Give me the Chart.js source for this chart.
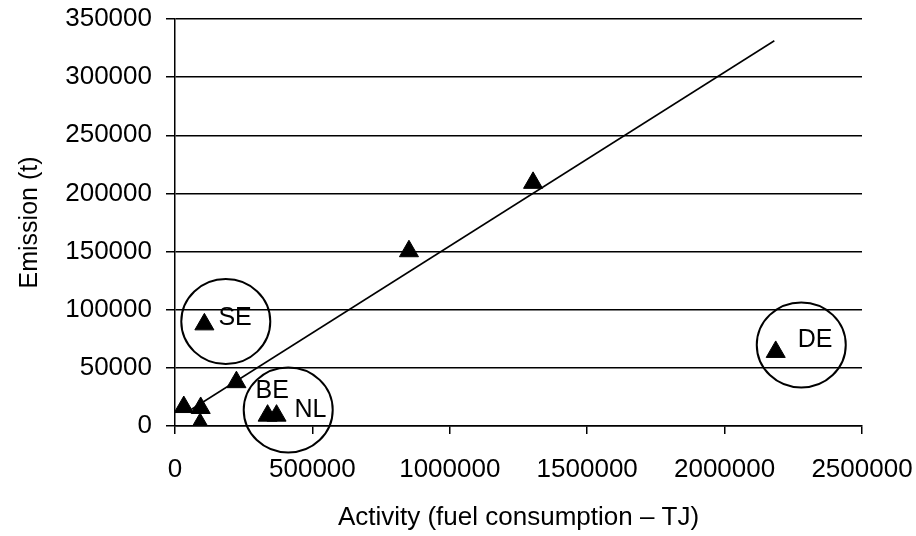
<!DOCTYPE html>
<html>
<head>
<meta charset="utf-8">
<title>Emission vs activity</title>
<script src="https://cdn.jsdelivr.net/npm/chart.js@4.4.1/dist/chart.umd.min.js"></script>
<style>
  html, body { margin: 0; padding: 0; background: #fff; }
</style>
</head>
<body>
<canvas id="myChart" width="916" height="536"></canvas>
<script>
// activity (fuel consumption, TJ) and emission (t) per country
const countries = ['', '', '', '', 'SE', 'BE', 'NL', '', '', 'DE'];
const activity = [32000, 93500, 91300, 223500, 106900, 337000, 369500, 851400, 1303000, 2186000];
const emission = [16300, 15500, 1700, 37700, 87400, 8900, 8900, 150300, 209100, 63700];

// regression line, start and end
const trendActivity = [60500, 2181000];
const trendEmission = [14400, 331300];

// centres of the circled outliers
const circleActivity = [184800, 412000, 2279000];
const circleEmission = [89800, 13800, 69700];

// axis ranges and tick steps
const xRange = [0, 2500000];
const xStep = 500000;
const yRange = [0, 350000];
const yStep = 50000;

const FONT = "'Liberation Sans', Arial, sans-serif";

// text offsets (px) of each country label from its point
const labelOffset = { SE: [14, 1], BE: [-12, -18], NL: [18, 1], DE: [22, -5] };

const annotations = {
    id: 'annotations',
    afterDatasetsDraw(chart) {
        const ctx = chart.ctx;
        const xs = chart.scales.x, ys = chart.scales.y;
        ctx.save();
        ctx.strokeStyle = '#000';
        ctx.lineWidth = 2;
        circleActivity.forEach((a, i) => {
            ctx.beginPath();
            ctx.ellipse(xs.getPixelForValue(a), ys.getPixelForValue(circleEmission[i]), 44.5, 42.5, 0, 0, Math.PI * 2);
            ctx.stroke();
        });
        ctx.fillStyle = '#000';
        ctx.font = '25px ' + FONT;
        ctx.textBaseline = 'alphabetic';
        ctx.textAlign = 'left';
        countries.forEach((c, i) => {
            if (!c) return;
            const off = labelOffset[c];
            ctx.fillText(c, xs.getPixelForValue(activity[i]) + off[0], ys.getPixelForValue(emission[i]) + off[1]);
        });
        ctx.restore();
    }
};

// keep the plot area fixed, labels may hang over the padding
function noOverhang(s) {
    s.paddingLeft = 0;
    s.paddingRight = 0;
    s.paddingTop = 0;
    s.paddingBottom = 0;
}

const ctx = document.getElementById('myChart').getContext('2d');
const myChart = new Chart(ctx, {
    type: 'scatter',
    data: {
        datasets: [{
            type: 'line',
            data: trendActivity.map((a, i) => ({ x: a, y: trendEmission[i] })),
            borderColor: '#000',
            borderWidth: 1.5,
            pointRadius: 0,
            fill: false
        }, {
            data: activity.map((a, i) => ({ x: a, y: emission[i] })),
            pointStyle: 'triangle',
            pointRadius: 11,
            backgroundColor: '#000',
            borderColor: '#000',
            borderWidth: 1
        }]
    },
    options: {
        responsive: false,
        devicePixelRatio: 1,
        animation: false,
        layout: { padding: { top: 19, right: 54, bottom: 0, left: 0 } },
        plugins: { legend: { display: false }, tooltip: { enabled: false } },
        scales: {
            x: {
                type: 'linear',
                min: xRange[0],
                max: xRange[1],
                afterFit: s => { s.height = 110; noOverhang(s); },
                ticks: {
                    stepSize: xStep,
                    autoSkip: false,
                    maxRotation: 0,
                    padding: 20,
                    color: '#000',
                    font: { family: FONT, size: 26 },
                    callback: v => v
                },
                grid: { drawOnChartArea: false, drawTicks: true, tickLength: 8, color: '#000', lineWidth: 1.5 },
                border: { color: '#000', width: 1.5 },
                title: {
                    display: true,
                    text: 'Activity (fuel consumption – TJ)',
                    color: '#000',
                    font: { family: FONT, size: 26 },
                    padding: { top: 0, bottom: 3 }
                }
            },
            y: {
                min: yRange[0],
                max: yRange[1],
                afterFit: s => { s.width = 175; noOverhang(s); },
                ticks: {
                    stepSize: yStep,
                    padding: 14,
                    color: '#000',
                    font: { family: FONT, size: 26 },
                    callback: v => v
                },
                grid: { color: '#000', lineWidth: 1.5, tickLength: 9 },
                border: { color: '#000', width: 1.5 },
                title: {
                    display: true,
                    text: 'Emission (t)',
                    color: '#000',
                    font: { family: FONT, size: 25 },
                    padding: { top: 15, bottom: 0 }
                }
            }
        }
    },
    plugins: [annotations]
});
</script>
</body>
</html>
